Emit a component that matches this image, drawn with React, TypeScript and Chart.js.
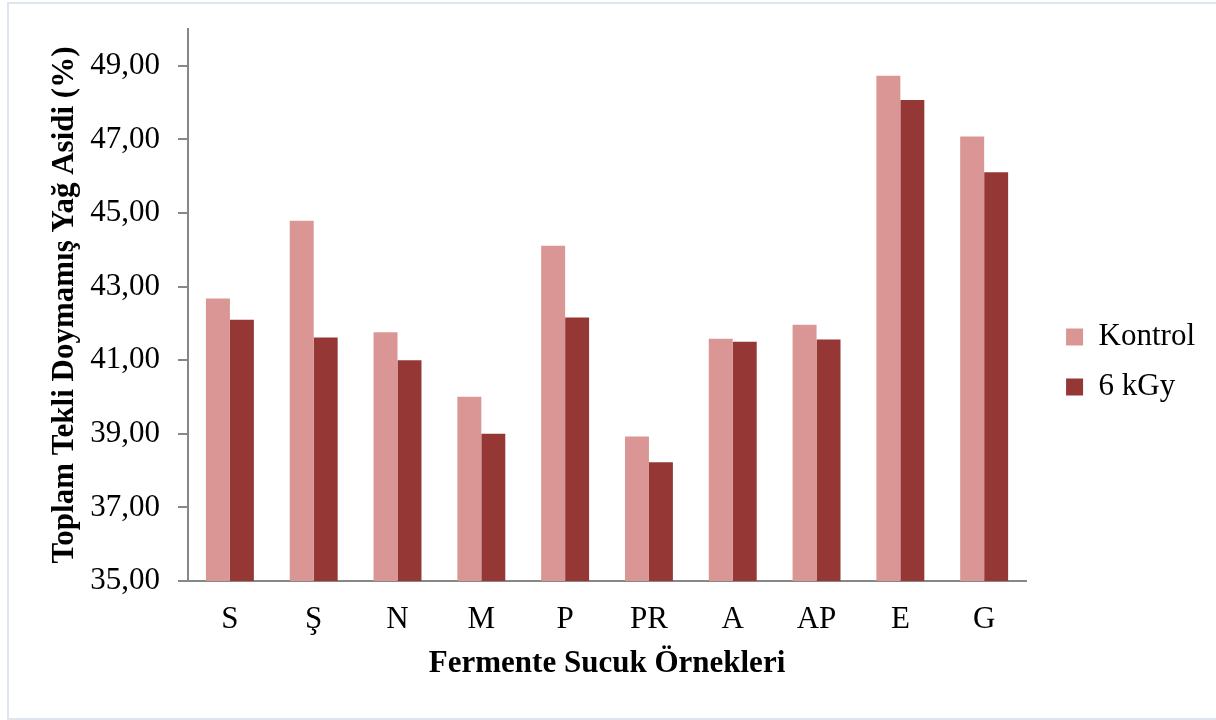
import React, { useEffect, useRef } from "react";
import { Chart, registerables } from "chart.js";

Chart.register(...registerables);

const categories = ["S", "Ş", "N", "M", "P", "PR", "A", "AP", "E", "G"];
const kontrolValues = [42.68, 44.79, 41.76, 40.01, 44.11, 38.93, 41.58, 41.96, 48.73, 47.08];
const kgyValues = [42.1, 41.62, 41.0, 39.0, 42.16, 38.23, 41.5, 41.56, 48.07, 46.11];
const yTicks = [35, 37, 39, 41, 43, 45, 47, 49];
const seriesNames = ["Kontrol", "6 kGy"];
const yTitle = "Toplam Tekli Doymamış Yağ Asidi (%)";
const xTitle = "Fermente Sucuk Örnekleri";

const FONT = "'Liberation Serif', 'Times New Roman', serif";
const AXIS = "#878787";

export default function App() {
  const ref = useRef<HTMLCanvasElement | null>(null);

  useEffect(() => {
    if (!ref.current) return;
    const chart = new Chart(ref.current, {
      type: "bar",
      data: {
        labels: categories,
        datasets: [
          {
            label: seriesNames[0],
            data: kontrolValues,
            backgroundColor: "#d99694",
            borderWidth: 0,
            categoryPercentage: 0.572,
            barPercentage: 1,
            xAxisID: "x",
            yAxisID: "y",
          },
          {
            label: seriesNames[1],
            data: kgyValues,
            backgroundColor: "#953735",
            borderWidth: 0,
            categoryPercentage: 0.572,
            barPercentage: 1,
            xAxisID: "x",
            yAxisID: "y",
          },
        ],
      },
      options: {
        responsive: false,
        animation: false,
        devicePixelRatio: 1,
        layout: { padding: { left: 0, top: 4, right: 11, bottom: 0 } },
        font: { family: FONT },
        plugins: {
          tooltip: { enabled: false },
          legend: {
            display: true,
            position: "right",
            align: "center",
            labels: {
              font: { family: FONT, size: 31 },
              color: "#000",
              boxWidth: 17,
              boxHeight: 17,
              padding: 19,
            },
          },
        },
        scales: {
          x: {
            type: "category",
            position: "bottom",
            grid: { display: false, drawTicks: false },
            border: { display: true, color: AXIS, width: 2 },
            ticks: {
              font: { family: FONT, size: 31 },
              color: "#000",
              padding: 20,
              maxRotation: 0,
            },
            title: {
              display: true,
              text: xTitle,
              font: { family: FONT, size: 31, weight: "bold" },
              color: "#000",
              padding: { top: 0, bottom: 37 },
            },
            afterFit: (s: any) => {
              s.height = 139;
              s.paddingLeft = 0;
              s.paddingRight = 0;
            },
          } as any,
          y: {
            type: "linear",
            position: "left",
            min: 35,
            max: 50,
            afterBuildTicks: (axis: any) => {
              axis.ticks = yTicks.map((v) => ({ value: v }));
            },
            grid: {
              display: true,
              drawOnChartArea: false,
              drawTicks: true,
              tickLength: 10,
              color: AXIS,
              lineWidth: 2,
            },
            border: { display: true, color: AXIS, width: 2 },
            ticks: {
              font: { family: FONT, size: 31 },
              color: "#000",
              padding: 18,
              callback: (v: any) => Number(v).toFixed(2).replace(".", ","),
            },
            title: {
              display: true,
              text: yTitle,
              font: { family: FONT, size: 31, weight: "bold" },
              color: "#000",
              padding: { top: 46, bottom: 0 },
            },
            afterFit: (s: any) => {
              s.width = 188;
              s.paddingTop = 0;
              s.paddingBottom = 0;
            },
          } as any,
          gapTop: {
            type: "linear",
            position: "top",
            display: true,
            grid: { display: false, drawTicks: false },
            border: { display: false },
            ticks: { display: false },
            afterFit: (s: any) => {
              s.height = 25;
            },
          } as any,
          gapRight: {
            type: "linear",
            position: "right",
            display: true,
            grid: { display: false, drawTicks: false },
            border: { display: false },
            ticks: { display: false },
            afterFit: (s: any) => {
              s.width = 21;
            },
          } as any,
        },
      } as any,
    });
    return () => chart.destroy();
  }, []);

  return (
    <div style={{ position: "fixed", left: 0, top: 0, width: 1216, height: 720, background: "#fff" }}>
      <canvas
        ref={ref}
        width={1216}
        height={720}
        style={{ position: "absolute", left: 0, top: 0, width: 1216, height: 720 }}
      />
      <div
        style={{
          position: "absolute",
          left: 7,
          top: 2,
          width: 1216,
          height: 718,
          border: "2px solid #dfe5f0",
          boxSizing: "border-box",
          pointerEvents: "none",
        }}
      />
    </div>
  );
}
